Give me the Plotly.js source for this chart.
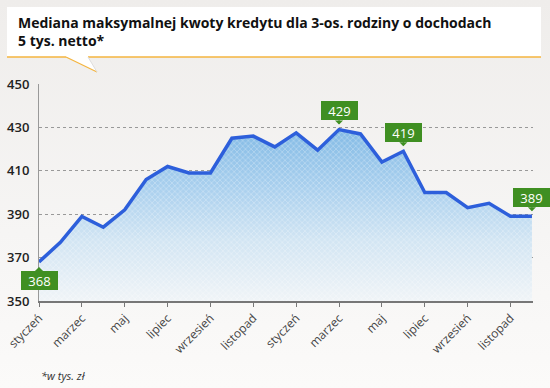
<!DOCTYPE html>
<html>
<head>
<meta charset="utf-8">
<script src="https://cdn.plot.ly/plotly-3.0.1.min.js"></script>
<style>
  html, body { margin: 0; padding: 0; }
  body { width: 550px; height: 388px; background: linear-gradient(#efedeb, #f6f5f4 60%, #fbfaf9); }
  #chart { width: 550px; height: 388px; }
</style>
</head>
<body>
<div id="chart"></div>
<script>
// ---- data ----
const periods = [
  'styczeń 1', 'luty 1', 'marzec 1', 'kwiecień 1', 'maj 1', 'czerwiec 1',
  'lipiec 1', 'sierpień 1', 'wrzesień 1', 'październik 1', 'listopad 1', 'grudzień 1',
  'styczeń 2', 'luty 2', 'marzec 2', 'kwiecień 2', 'maj 2', 'czerwiec 2',
  'lipiec 2', 'sierpień 2', 'wrzesień 2', 'październik 2', 'listopad 2', 'grudzień 2'
];
const values = [
  368, 377, 389, 384, 392, 406,
  412, 409, 409, 425, 426, 421,
  427.5, 419.5, 429, 427, 414, 419,
  400, 400, 393, 395, 389, 389
];
const tickVals = [
  'styczeń 1', 'marzec 1', 'maj 1', 'lipiec 1', 'wrzesień 1', 'listopad 1',
  'styczeń 2', 'marzec 2', 'maj 2', 'lipiec 2', 'wrzesień 2', 'listopad 2'
];
const tickLabels = [
  'styczeń', 'marzec', 'maj', 'lipiec', 'wrzesień', 'listopad',
  'styczeń', 'marzec', 'maj', 'lipiec', 'wrzesień', 'listopad'
];
const yTicks = [350, 370, 390, 410, 430, 450];
const labelPeriods = ['styczeń 1', 'marzec 2', 'czerwiec 2', 'grudzień 2'];
const labelTexts = ['368', '429', '419', '389'];
const labelSides = ['below', 'above', 'above', 'above'];

const titleText = 'Mediana maksymalnej kwoty kredytu dla 3-os. rodziny o dochodach<br>5 tys. netto*';
const footnote = '*w tys. zł';

// ---- layout constants ----
const W = 550, H = 388;
const M = { l: 39, r: 17, t: 84, b: 87 };
const pw = W - M.l - M.r, ph = H - M.t - M.b;
const px = x => (x - M.l) / pw;
const py = y => (H - M.b - y) / ph;

const FONT = '"Open Sans", "Noto Sans", "DejaVu Sans", sans-serif';
const GREEN = '#3f8f22';

const valueOf = p => values[periods.indexOf(p)];

const traces = [
  {
    x: periods, y: values, type: 'scatter', mode: 'lines',
    line: { width: 0 }, fill: 'tozeroy',
    fillgradient: {
      type: 'vertical', start: 350, stop: 430,
      colorscale: [[0, '#f0f4f7'], [0.35, '#d2e5f3'], [0.65, '#aad0ee'], [1, '#82bae5']]
    },
    hoverinfo: 'skip', showlegend: false
  },
  {
    x: periods, y: values, type: 'scatter', mode: 'lines',
    line: { width: 0 }, fill: 'tozeroy', fillcolor: 'rgba(0,0,0,0)',
    fillpattern: { shape: 'x', size: 4, solidity: 0.2, fgcolor: 'rgba(255,255,255,0.6)' },
    hoverinfo: 'skip', showlegend: false
  },
  {
    x: periods, y: values, type: 'scatter', mode: 'lines',
    line: { color: '#2d5fdb', width: 3.5, shape: 'linear' },
    showlegend: false
  }
];

const annotations = labelPeriods.map((p, i) => ({
  x: p, y: valueOf(p), xref: 'x', yref: 'y',
  text: labelTexts[i],
  showarrow: true, arrowhead: 1, arrowsize: 1.35, arrowwidth: 1, arrowcolor: GREEN,
  standoff: 5, ax: 0, ay: labelSides[i] === 'above' ? -19 : 19,
  bgcolor: GREEN, bordercolor: GREEN, borderwidth: 1, borderpad: 1.5,
  width: 32, height: 14,
  font: { family: FONT, size: 13, color: '#ffffff' }
}));

annotations.push({
  xref: 'paper', yref: 'paper', x: px(16), y: py(11),
  xanchor: 'left', yanchor: 'top', align: 'left', showarrow: false,
  text: '<b>' + titleText + '</b>',
  font: { family: FONT, size: 14, color: '#111111' }
});

annotations.push({
  xref: 'paper', yref: 'paper', x: px(39), y: py(375),
  xanchor: 'left', yanchor: 'middle', showarrow: false,
  text: '<i>' + footnote + '</i>',
  font: { family: FONT, size: 11, color: '#333' }
});

const shapes = [
  { type: 'rect', xref: 'paper', yref: 'paper', x0: px(7), x1: px(541), y0: py(7), y1: py(57),
    fillcolor: '#ffffff', line: { width: 0 }, layer: 'below' },
  { type: 'path', xref: 'paper', yref: 'paper',
    path: `M${px(66)},${py(57)} L${px(97)},${py(72)} L${px(88)},${py(57)} Z`,
    fillcolor: '#ffffff', line: { width: 0 }, layer: 'below' },
  { type: 'line', xref: 'paper', yref: 'paper', x0: px(7), x1: px(66), y0: py(57), y1: py(57),
    line: { color: '#f4b43e', width: 1.5 }, layer: 'below' },
  { type: 'line', xref: 'paper', yref: 'paper', x0: px(88), x1: px(541), y0: py(57), y1: py(57),
    line: { color: '#f4b43e', width: 1.5 }, layer: 'below' },
  { type: 'line', xref: 'paper', yref: 'paper', x0: px(66), x1: px(97), y0: py(57), y1: py(72),
    line: { color: '#f4b43e', width: 1.2 }, layer: 'below' },
  { type: 'line', xref: 'paper', yref: 'paper', x0: px(88), x1: px(97), y0: py(57), y1: py(72),
    line: { color: '#dddddd', width: 1 }, layer: 'below' }
];

const layout = {
  width: W, height: H,
  margin: M,
  paper_bgcolor: 'rgba(0,0,0,0)',
  plot_bgcolor: 'rgba(0,0,0,0)',
  xaxis: {
    type: 'category', range: [0, 23.05],
    tickmode: 'array', tickvals: tickVals, ticktext: tickLabels,
    tickangle: -45, ticks: 'outside', ticklen: 4, tickcolor: '#777', tickwidth: 1,
    showline: true, linecolor: '#777', linewidth: 1.5,
    showgrid: false, zeroline: false,
    tickfont: { family: FONT, size: 12, color: '#444' }
  },
  yaxis: {
    range: [350, 450], tickmode: 'array', tickvals: yTicks,
    showgrid: true, gridcolor: '#999', griddash: 'dot', gridwidth: 1,
    showline: true, linecolor: '#999', linewidth: 1,
    zeroline: false, ticks: '', ticklabelstandoff: 6,
    tickfont: { family: FONT, size: 13, weight: 600, color: '#222' }
  },
  annotations: annotations,
  shapes: shapes,
  showlegend: false
};

Plotly.newPlot('chart', traces, layout, { staticPlot: true, displayModeBar: false });
</script>
</body>
</html>
